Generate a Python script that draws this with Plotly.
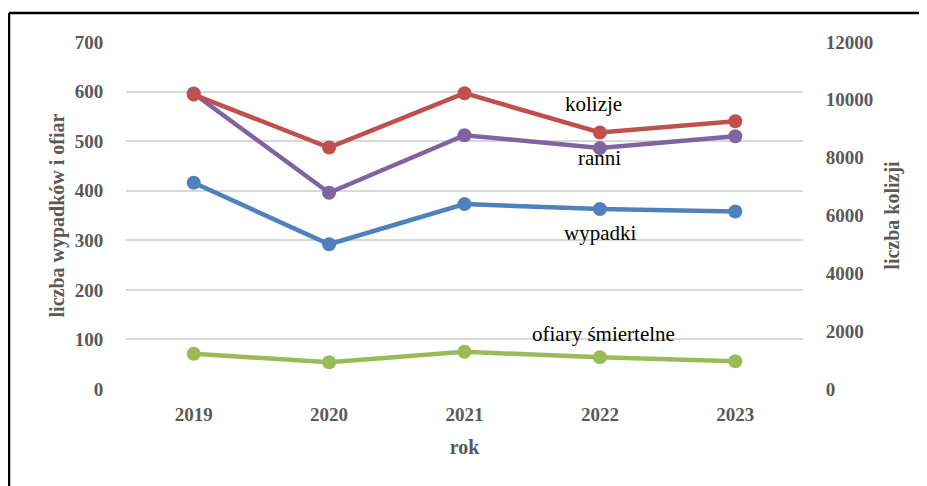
import plotly.graph_objects as go

years = [2019, 2020, 2021, 2022, 2023]
year_labels = ["2019", "2020", "2021", "2022", "2023"]
kolizje = [10180, 8350, 10230, 8870, 9260]
ranni = [596, 396, 512, 486, 510]
wypadki = [416, 292, 373, 363, 358]
ofiary = [71, 54, 75, 64, 56]

left_ticks = [0, 100, 200, 300, 400, 500, 600, 700]
right_ticks = [0, 2000, 4000, 6000, 8000, 10000, 12000]

labels = ["kolizje", "ranni", "wypadki", "ofiary śmiertelne"]
label_x = [2021.95, 2022, 2022, 2022.03]
label_y = [9840, 465, 314, 110]
label_axis = ["y2", "y", "y", "y"]

colors = {"kolizje": "#C0504D", "ranni": "#8064A2", "wypadki": "#4F81BD", "ofiary": "#9BBB59"}

fig = go.Figure()
def add(name, vals, color, axis):
    fig.add_trace(go.Scatter(x=years, y=vals, name=name, mode="lines+markers",
                             line=dict(color=color, width=4.5),
                             marker=dict(color=color, size=14),
                             yaxis=axis, showlegend=False))

add("ofiary śmiertelne", ofiary, colors["ofiary"], "y")
add("wypadki", wypadki, colors["wypadki"], "y")
add("ranni", ranni, colors["ranni"], "y")
add("kolizje", kolizje, colors["kolizje"], "y2")

tickfont = dict(family="Liberation Serif", size=19, color="#595959", weight="bold")
titlefont = dict(family="Liberation Serif", size=20, color="#595959", weight="bold")

for text, xv, yv, ax in zip(labels, label_x, label_y, label_axis):
    fig.add_annotation(x=xv, y=yv, xref="x", yref=ax, text=text, showarrow=False,
                       font=dict(family="Liberation Serif", size=21, color="#000000"))

# page body has an 8px margin; compensate so the plot lands where the reference has it
W, H = 919, 478
L, R, T, B = 118, 124, 34, 97
pw, ph = W - L - R, H - T - B
fx0 = (1 - L) / pw
fx1 = (1000 - L) / pw
fy_top = (H - B - 5) / ph
fy_bot = (H - B - 560) / ph
frame = dict(color="black", width=2.5)
fig.add_shape(type="line", xref="paper", yref="paper", x0=fx0, x1=fx1, y0=fy_top, y1=fy_top,
              line=frame, layer="above")
fig.add_shape(type="line", xref="paper", yref="paper", x0=fx0, x1=fx0, y0=fy_bot, y1=fy_top,
              line=frame, layer="above")

fig.update_layout(
    width=W, height=H, margin=dict(l=L, r=R, t=T, b=B, autoexpand=False),
    paper_bgcolor="white", plot_bgcolor="white",
    xaxis=dict(range=[2018.5, 2023.5], tickvals=years, ticktext=year_labels,
               tickfont=tickfont, showgrid=False, showline=False, zeroline=False,
               ticks="outside", ticklen=8, tickcolor="rgba(0,0,0,0)",
               title=dict(text="rok", font=titlefont, standoff=16)),
    yaxis=dict(range=[0, 700], tickvals=left_ticks, tickfont=tickfont,
               gridcolor="#D9D9D9", gridwidth=1.5, zeroline=False, showline=False,
               ticks="outside", ticklen=18, tickcolor="rgba(0,0,0,0)",
               title=dict(text="liczba wypadków i ofiar", font=titlefont, standoff=4)),
    yaxis2=dict(range=[0, 12000], tickvals=right_ticks, tickformat="d", tickfont=tickfont,
                overlaying="y", side="right", showgrid=False, zeroline=False, showline=False,
                ticks="outside", ticklen=18, tickcolor="rgba(0,0,0,0)",
                title=dict(text="liczba kolizji", font=titlefont, standoff=12)),
)

fig.write_html("out.html")
